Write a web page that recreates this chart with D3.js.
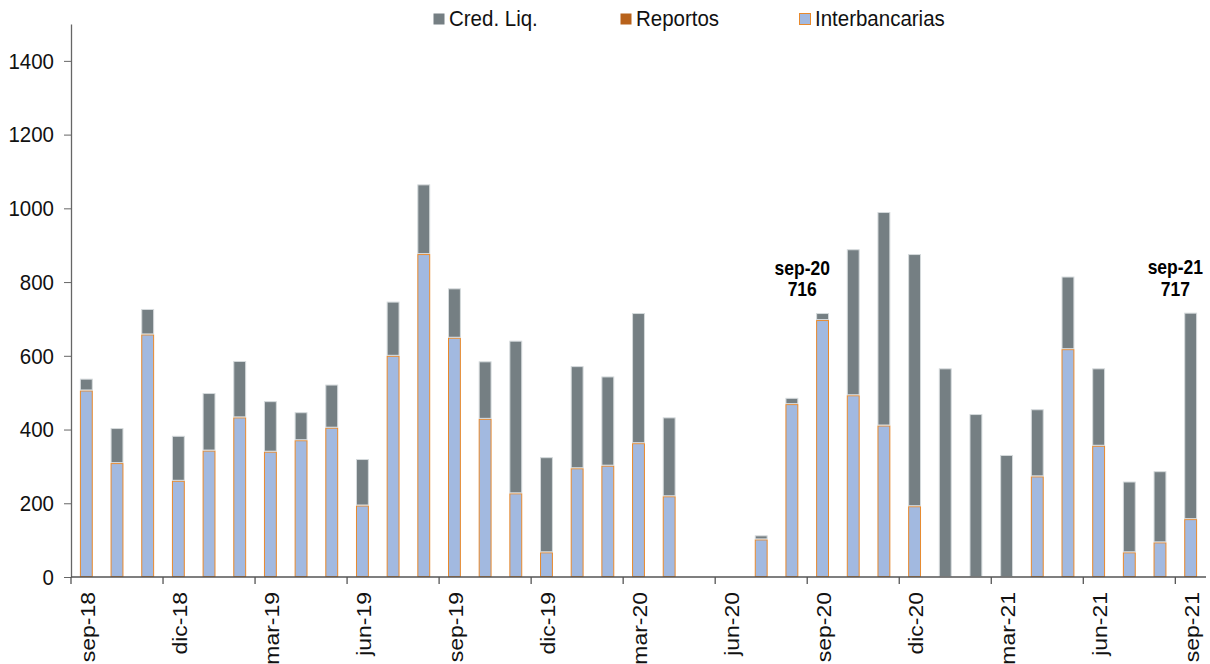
<!DOCTYPE html>
<html>
<head>
<meta charset="utf-8">
<script src="https://cdn.jsdelivr.net/npm/d3@7"></script>
<style>
  body { margin: 0; background: #fff; }
  svg { display: block; font-family: "Liberation Sans", Arial, sans-serif; }
</style>
</head>
<body>
<div id="chart-area"></div>
<script>
const W = 1210, H = 664,
    margin = {top: 24, right: 4, bottom: 87, left: 71},
    x0 = margin.left, x1 = W - margin.right,
    yBase = H - margin.bottom;

// ---------------- DATA
const months = ["sep-18","oct-18","nov-18","dic-18","ene-19","feb-19","mar-19","abr-19","may-19","jun-19","jul-19","ago-19",
  "sep-19","oct-19","nov-19","dic-19","ene-20","feb-20","mar-20","abr-20","may-20","jun-20","jul-20","ago-20",
  "sep-20","oct-20","nov-20","dic-20","ene-21","feb-21","mar-21","abr-21","may-21","jun-21","jul-21","ago-21","sep-21"];

const interbancarias = [506,309,658,261,343,433,340,371,405,194,600,876,
  649,429,227,67,295,302,363,219,0,0,102,469,
  697,493,411,192,0,0,0,273,618,356,67,94,157];

const reportos = [0,0,0,0,0,0,0,0,0,0,0,0,
  0,0,0,0,0,0,0,0,0,0,0,0,
  0,0,0,0,0,0,0,0,0,0,0,0,0];

const credLiq = [32,95,69,122,156,153,137,76,117,126,147,189,
  134,156,414,258,277,242,353,214,0,0,11,17,
  19,396,579,684,566,442,331,182,197,210,192,193,560];

const yTicks = [0,200,400,600,800,1000,1200,1400];
const xTickLabels = ["sep-18","dic-18","mar-19","jun-19","sep-19","dic-19","mar-20","jun-20","sep-20","dic-20","mar-21","jun-21","sep-21"];

const notes = [{mes: "sep-20", valor: 716, dx: -5}, {mes: "sep-21", valor: 717, dx: 0}];

const series = [
  {key: "interbancarias", name: "Interbancarias", fill: "#a2b9e0", stroke: "#e8892c"},
  {key: "reportos", name: "Reportos", fill: "#b8621b", stroke: "#b8621b"},
  {key: "credLiq", name: "Cred. Liq.", fill: "#757f83", stroke: "#d5dadc"}
];
const legendOrder = ["credLiq", "reportos", "interbancarias"];

const table = months.map((m, i) => ({mes: m, interbancarias: interbancarias[i], reportos: reportos[i], credLiq: credLiq[i]}));

// ---------------- SVG
const svg = d3.select("#chart-area").append("svg")
  .attr("width", W).attr("height", H);

const xOuter = d3.scaleBand().domain(months).range([x0, x1]);
const x = d3.scaleBand().domain(months).range([x0, x1]).paddingInner(0.58).paddingOuter(0.29);
const y = d3.scaleLinear().domain([0, 1500]).range([yBase, margin.top]);

const stacked = d3.stack().keys(series.map(s => s.key))(table);

// bars
const layers = svg.append("g").selectAll("g")
  .data(stacked).join("g")
    .attr("fill", (d, i) => series[i].fill)
    .attr("stroke", (d, i) => series[i].stroke)
    .attr("stroke-width", 1);

layers.selectAll("rect")
  .data(d => d.filter(v => v[1] - v[0] > 0))
  .join("rect")
    .attr("x", d => x(d.data.mes) + 0.5)
    .attr("width", x.bandwidth() - 1)
    .attr("y", d => y(d[1]) + 0.5)
    .attr("height", d => Math.max(0, y(d[0]) - y(d[1]) - 1));

// y axis
const yAxis = svg.append("g")
  .attr("transform", `translate(${x0},0)`)
  .call(d3.axisLeft(y).tickValues(yTicks).tickFormat(d3.format("d"))
    .tickSize(7).tickPadding(10).tickSizeOuter(0));
yAxis.select(".domain").attr("stroke", "#666").attr("stroke-width", 1.3);
yAxis.selectAll(".tick line").attr("stroke", "#666");
yAxis.selectAll(".tick text")
  .attr("font-size", 20.5).attr("fill", "#111")
  .attr("font-family", "Liberation Sans, Arial, sans-serif")
  .attr("transform", "scale(1,1.12)");

// x axis
const xAxis = svg.append("g");
xAxis.append("line")
  .attr("x1", x0).attr("x2", x1).attr("y1", yBase).attr("y2", yBase)
  .attr("stroke", "#555").attr("stroke-width", 1.3);
xAxis.selectAll("line.tk")
  .data(xTickLabels).join("line")
    .attr("class", "tk")
    .attr("x1", d => xOuter(d)).attr("x2", d => xOuter(d))
    .attr("y1", yBase).attr("y2", yBase + 7)
    .attr("stroke", "#555").attr("stroke-width", 1.3);
xAxis.selectAll("text")
  .data(xTickLabels).join("text")
    .attr("transform", d => `translate(${xOuter(d) + xOuter.bandwidth() / 2 + 1},${yBase + 15}) scale(1,1.12) rotate(-90)`)
    .attr("text-anchor", "end")
    .attr("dy", "0.35em")
    .attr("font-size", 20.5)
    .attr("fill", "#111")
    .text(d => d);

// annotations
const noteG = svg.append("g").selectAll("g")
  .data(notes).join("g")
    .attr("transform", d => `translate(${xOuter(d.mes) + d.dx},${y(d.valor) - 17})`);
noteG.append("text")
  .attr("text-anchor", "middle").attr("font-weight", "bold").attr("font-size", 17.5)
  .attr("transform", "scale(1,1.12)")
  .attr("y", -19)
  .text(d => d.mes);
noteG.append("text")
  .attr("text-anchor", "middle").attr("font-weight", "bold").attr("font-size", 17.5)
  .attr("transform", "scale(1,1.12)")
  .text(d => d.valor);

// legend
const legendX = [433, 620, 799];
const legend = svg.append("g").selectAll("g")
  .data(legendOrder).join("g")
    .attr("transform", (d, i) => `translate(${legendX[i]},13)`);
legend.append("rect")
  .attr("x", 0.5).attr("y", 0.5).attr("width", 11).attr("height", 11)
  .attr("fill", d => series.find(s => s.key === d).fill)
  .attr("stroke", d => d === "interbancarias" ? "#e8892c" : "none");
legend.append("text")
  .attr("x", 16).attr("y", 0)
  .attr("transform", "translate(0,13) scale(1,1.1)")
  .attr("font-size", 20.5).attr("fill", "#111")
  .text(d => series.find(s => s.key === d).name);
</script>
</body>
</html>
